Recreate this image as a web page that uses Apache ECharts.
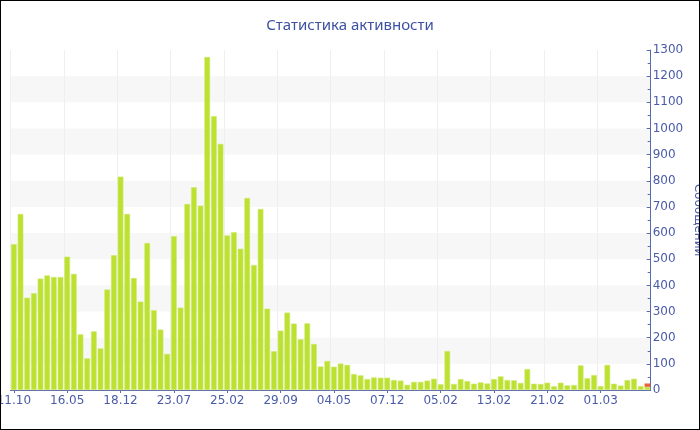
<!DOCTYPE html>
<html><head><meta charset="utf-8">
<script src="https://cdn.jsdelivr.net/npm/echarts@6/dist/echarts.min.js"></script>
<style>
html,body{margin:0;padding:0;background:#fff;}
#wrap{position:absolute;left:0;top:0;width:698px;height:428px;border:1px solid #000;}
#c{width:698px;height:428px;}
</style></head>
<body><div id="wrap"><div id="c"></div></div>
<script>
const categories = [
 '11.10','07.11','04.12','31.12','27.01','23.02','22.03','18.04',
 '16.05','12.06','09.07','05.08','01.09','28.09','25.10','21.11',
 '18.12','14.01','10.02','09.03','05.04','02.05','29.05','25.06',
 '23.07','19.08','15.09','12.10','08.11','05.12','01.01','28.01',
 '25.02','24.03','20.04','17.05','13.06','10.07','06.08','02.09',
 '29.09','26.10','22.11','19.12','15.01','11.02','10.03','06.04',
 '04.05','31.05','27.06','24.07','20.08','16.09','13.10','09.11',
 '07.12','14.12','22.12','29.12','06.01','13.01','21.01','28.01',
 '05.02','06.02','07.02','08.02','09.02','10.02','11.02','12.02',
 '13.02','14.02','15.02','16.02','17.02','18.02','19.02','20.02',
 '21.02','22.02','23.02','24.02','25.02','26.02','27.02','28.02',
 '01.03','02.03','03.03','04.03','05.03','06.03','07.03','08.03'
];
const messages = [
 557,673,353,370,426,438,432,432,510,444,
 213,121,224,159,384,515,816,673,428,338,
 562,305,231,138,588,315,711,775,705,1273,
 1047,941,591,603,540,734,478,692,311,148,
 227,296,254,194,255,176,90,111,89,101,
 96,61,56,42,48,47,47,38,36,20,
 31,31,36,43,22,149,23,42,34,24,
 29,25,42,52,38,37,27,80,24,23,
 28,14,28,18,19,94,45,57,15,96,
 24,17,38,43,15,12
];
const today = [
 null,null,null,null,null,null,null,null,null,null,
 null,null,null,null,null,null,null,null,null,null,
 null,null,null,null,null,null,null,null,null,null,
 null,null,null,null,null,null,null,null,null,null,
 null,null,null,null,null,null,null,null,null,null,
 null,null,null,null,null,null,null,null,null,null,
 null,null,null,null,null,null,null,null,null,null,
 null,null,null,null,null,null,null,null,null,null,
 null,null,null,null,null,null,null,null,null,null,
 null,null,null,null,null,13
];
const yTicks = {min:0, max:1300, interval:100};
const titleText = 'Статистика активности';
const yName = 'Сообщений';

const blue = '#4a5ba8';
const chart = echarts.init(document.getElementById('c'), null, {renderer:'canvas'});
chart.setOption({
  animation:false,
  title:{text:titleText,left:'center',top:12,textStyle:{color:'#3d51a2',fontSize:15,fontWeight:'normal',fontFamily:'Noto Sans'}},
  grid:{left:9.5,right:48.3,top:49,bottom:39,containLabel:false,outerBoundsMode:'none'},
  xAxis:{type:'category',data:categories,boundaryGap:true,
    axisLine:{lineStyle:{color:'#5a6aae',width:1}},
    axisTick:{show:true,alignWithLabel:true,interval:7,length:3,lineStyle:{color:'#5a6aae'}},
    axisLabel:{interval:7,color:blue,fontSize:12,fontFamily:'DejaVu Sans',margin:5,hideOverlap:false},
    splitLine:{show:true,interval:7,lineStyle:{color:'#efefef',width:1}}
  },
  yAxis:{type:'value',position:'right',min:yTicks.min,max:yTicks.max,interval:yTicks.interval,
    name:yName,nameLocation:'middle',nameRotate:-90,nameGap:41,nameMoveOverlap:false,
    nameTextStyle:{color:blue,fontSize:12,fontFamily:'DejaVu Sans'},
    axisLine:{show:true,lineStyle:{color:'#5a6aae',width:1}},
    axisTick:{show:true,inside:true,length:4,lineStyle:{color:'#5a6aae'}},
    minorTick:{show:true,splitNumber:2,length:3,lineStyle:{color:'#5a6aae'}},
    axisLabel:{color:blue,fontSize:12,fontFamily:'DejaVu Sans',margin:2,formatter:function(v){return String(v);}},
    splitLine:{show:false},
    splitArea:{show:true,areaStyle:{color:['rgba(255,255,255,0)','#f7f7f7']}}
  },
  series:[
    {type:'bar',name:yName,data:messages,stack:'a',barCategoryGap:'15%',
     itemStyle:{color:'#bde130',borderColor:'#cfe96e',borderWidth:0.6}},
    {type:'bar',name:'today',data:today,stack:'a',
     itemStyle:{color:'#e8643a'}}
  ]
});
</script></body></html>
